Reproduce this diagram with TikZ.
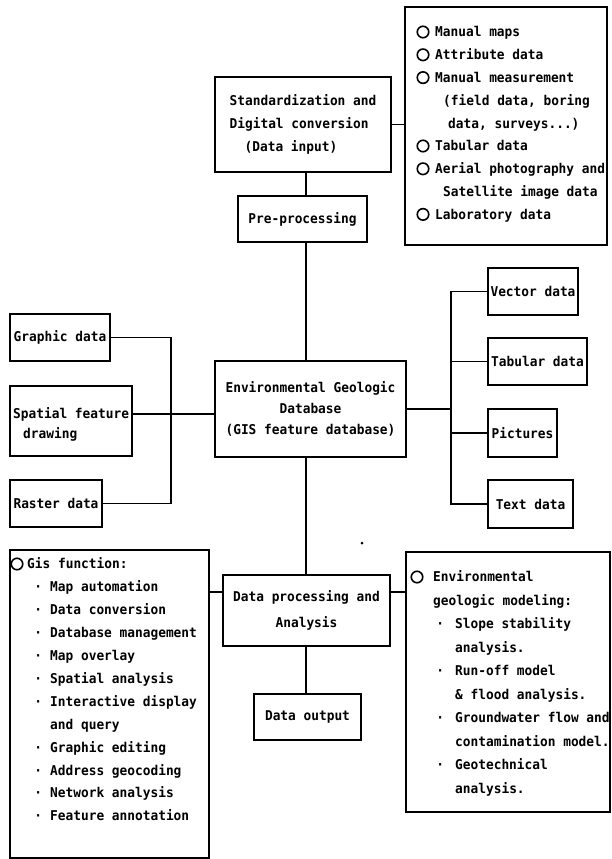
\documentclass[tikz,border=0pt]{standalone}
\usepackage{fontspec}
\newfontfamily\dia[FakeStretch=0.95]{DejaVu Sans Mono}
\newcommand\dfont{\dia\bfseries\fontsize{13.5pt}{23pt}\selectfont}
\newcommand\bul[1]{\makebox[6pt][c]{·}\hspace*{#1}}
\begin{document}
\begin{tikzpicture}[x=1pt,y=-1pt,
  box/.style={draw, line width=1.5pt, inner sep=0pt, align=center, font=\dfont},
  ln/.style={line width=1.5pt},
  tx/.style={anchor=west, inner sep=0pt, text height=9.8pt, text depth=0pt, font=\dfont},
  oc/.style={circle, draw, line width=1.6pt, minimum size=11.5pt, inner sep=0pt}]
\useasboundingbox[fill=white] (0,0) rectangle (612,859);

% ---------- top part ----------
\node[box, minimum width=176pt, minimum height=95pt, align=left] (std) at (303,124.5)
  {Standardization and\\Digital conversion\\\hspace*{15pt}(Data input)};
\node[box, minimum width=129pt, minimum height=46pt] (pre) at (302.5,219) {Pre-processing};

\node[draw, line width=1.5pt, minimum width=202pt, minimum height=238pt, inner sep=0pt] (inlist) at (506,126) {};
\node[oc] (ic1) at (423,32) {};
\node[tx] (it1) at (435,32) {Manual maps};
\node[oc] (ic2) at (423,54.8) {};
\node[tx] (it2) at (435,54.8) {Attribute data};
\node[oc] (ic3) at (423,77.6) {};
\node[tx] (it3) at (435,77.6) {Manual measurement};
\node[tx] (it4) at (443,100.4) {(field data, boring};
\node[tx] (it5) at (448,123.2) {data, surveys...)};
\node[oc] (ic6) at (423,146) {};
\node[tx] (it6) at (435,146) {Tabular data};
\node[oc] (ic7) at (423,168.8) {};
\node[tx] (it7) at (435,168.8) {Aerial photography and};
\node[tx] (it8) at (443,191.6) {Satellite image data};
\node[oc] (ic9) at (423,214.4) {};
\node[tx] (it9) at (435,214.4) {Laboratory data};

% ---------- middle part ----------
\node[box, line width=2.8pt, minimum width=191pt, minimum height=96pt,
      font=\dia\bfseries\fontsize{13.5pt}{21pt}\selectfont] (db) at (310.5,409)
  {Environmental Geologic\\Database\\(GIS feature database)};

\node[box, minimum width=100pt, minimum height=47pt] (gr) at (60,337.5) {Graphic data};
\node[box, minimum width=122pt, minimum height=70pt] (spf) at (71,421) {};
\node[tx] (spf1) at (13,414) {Spatial feature};
\node[tx] (spf2) at (23,434) {drawing};
\node[box, minimum width=92pt, minimum height=47pt] (ra) at (56,503.5) {Raster data};

\node[box, minimum width=90pt, minimum height=47pt] (vec) at (533,291.5) {Vector data};
\node[box, minimum width=99pt, minimum height=47pt] (tab) at (537.5,361.5) {Tabular data};
\node[box, minimum width=69pt, minimum height=48pt] (pic) at (522.5,433) {Pictures};
\node[box, minimum width=85pt, minimum height=48pt] (txd) at (530.5,504) {Text data};

% ---------- bottom part ----------
\node[box, minimum width=167pt, minimum height=71pt,
      font=\dia\bfseries\fontsize{13.5pt}{26pt}\selectfont] (dp) at (306.5,610.5)
  {Data processing and\\Analysis};
\node[box, minimum width=107pt, minimum height=46pt] (out) at (307.5,717) {Data output};

\node[draw, line width=1.5pt, minimum width=199pt, minimum height=308pt, inner sep=0pt] (gis) at (109.5,704) {};
\node[oc] (gc0) at (17,564) {};
\node[tx] (gt0) at (27,564) {Gis function:};
\node[tx] (gt1) at (35,586.9) {\bul{9pt}Map automation};
\node[tx] (gt2) at (35,609.8) {\bul{9pt}Data conversion};
\node[tx] (gt3) at (35,632.7) {\bul{9pt}Database management};
\node[tx] (gt4) at (35,655.6) {\bul{9pt}Map overlay};
\node[tx] (gt5) at (35,678.5) {\bul{9pt}Spatial analysis};
\node[tx] (gt6) at (35,701.4) {\bul{9pt}Interactive display};
\node[tx] (gt7) at (50,724.3) {and query};
\node[tx] (gt8) at (35,747.2) {\bul{9pt}Graphic editing};
\node[tx] (gt9) at (35,770.1) {\bul{9pt}Address geocoding};
\node[tx] (gt10) at (35,793) {\bul{9pt}Network analysis};
\node[tx] (gt11) at (35,815.9) {\bul{9pt}Feature annotation};

\node[draw, line width=1.5pt, minimum width=204pt, minimum height=260pt, inner sep=0pt] (env) at (508,682) {};
\node[oc] (ec0) at (417,577) {};
\node[tx] (et0) at (433,577) {Environmental};
\node[tx] (et1) at (433,600.5) {geologic modeling:};
\node[tx] (et2) at (437,624) {\bul{12pt}Slope stability};
\node[tx] (et3) at (455,647.5) {analysis.};
\node[tx] (et4) at (437,671) {\bul{12pt}Run-off model};
\node[tx] (et5) at (455,694.5) {\& flood analysis.};
\node[tx] (et6) at (437,718) {\bul{12pt}Groundwater flow and};
\node[tx] (et7) at (455,741.5) {contamination model.};
\node[tx] (et8) at (437,765) {\bul{12pt}Geotechnical};
\node[tx] (et9) at (455,788.5) {analysis.};

\node[circle, fill, inner sep=0pt, minimum size=3pt] (speck) at (362,543) {};

% ---------- connectors ----------
\coordinate (spine) at (306,0);
\coordinate (lbus) at (171,0);
\coordinate (rbus) at (451,0);
\coordinate (dprow) at (0,592);

\draw[ln] (std.east) -- (std.east -| inlist.west);
\draw[ln] (std.south -| spine) -- (pre.north -| spine);
\draw[ln] (pre.south -| spine) -- (db.north -| spine);
\draw[ln] (db.south -| spine) -- (dp.north -| spine);
\draw[ln] (dp.south -| spine) -- (out.north -| spine);

\draw[ln] (gr.east) -- (gr.east -| lbus) -- (ra.east -| lbus) -- (ra.east);
\draw[ln] (spf.east |- spf1.west) -- (spf1.west -| db.west);

\draw[ln] (db.east) -- (db.east -| rbus);
\draw[ln] (vec.west) -- (vec.west -| rbus) -- (txd.west -| rbus) -- (txd.west);
\draw[ln] (tab.west) -- (tab.west -| rbus);
\draw[ln] (pic.west) -- (pic.west -| rbus);

\draw[ln] (gis.east |- dprow) -- (dp.west |- dprow);
\draw[ln] (dp.east |- dprow) -- (env.west |- dprow);
\end{tikzpicture}
\end{document}
